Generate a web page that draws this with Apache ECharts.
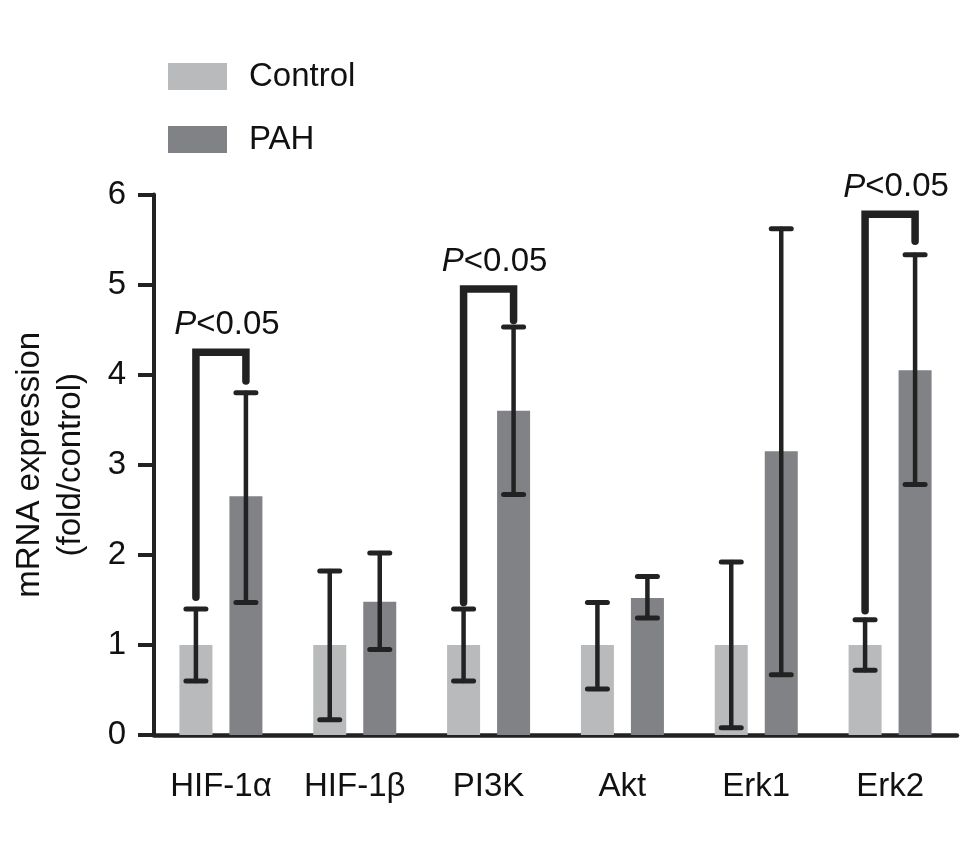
<!DOCTYPE html>
<html>
<head>
<meta charset="utf-8">
<script src="https://cdn.jsdelivr.net/npm/echarts@6/dist/echarts.min.js"></script>
<style>
html,body{margin:0;padding:0;background:#fff;}
#main{width:971px;height:862px;}
</style>
</head>
<body>
<div id="main"></div>
<script>
// ---- data ----
var categories = ['HIF-1\u03b1', 'HIF-1\u03b2', 'PI3K', 'Akt', 'Erk1', 'Erk2'];
var controlMean = [1.00, 1.00, 1.00, 1.00, 1.00, 1.00];
var controlLow  = [0.60, 0.17, 0.60, 0.51, 0.08, 0.72];
var controlHigh = [1.40, 1.82, 1.40, 1.47, 1.92, 1.28];
var pahMean = [2.65, 1.48, 3.60, 1.52, 3.15, 4.05];
var pahLow  = [1.47, 0.95, 2.67, 1.30, 0.67, 2.78];
var pahHigh = [3.80, 2.02, 4.53, 1.76, 5.62, 5.33];
// significance brackets
var sigCategories = ['HIF-1\u03b1', 'PI3K', 'Erk2'];
var sigLeftEnd  = [1.53, 1.47, 1.38];
var sigTop      = [4.25, 4.95, 5.78];
var sigRightEnd = [3.93, 4.60, 5.48];
var sigText = 'P<0.05';
var yTicks = [0, 1, 2, 3, 4, 5, 6];

// ---- styling ----
var FONT = '"Liberation Sans", Arial, Helvetica, sans-serif';
var FS = 33;
var BAR_W = 33, GAP_PX = 17;
var OFF = (BAR_W + GAP_PX) / 2;
var INK = '#222222';
var C_CTRL = '#b9babb', C_PAH = '#818285';

function errData(low, high) {
  return categories.map(function (c, i) { return [i, low[i], high[i]]; });
}
function errRender(offset) {
  return function (params, api) {
    var i = api.value(0);
    var lo = api.coord([i, api.value(1)]);
    var hi = api.coord([i, api.value(2)]);
    var x = lo[0] + offset;
    var capW = 10;
    var st = { stroke: INK, lineWidth: 4.5, lineCap: 'round' };
    var cap = { stroke: INK, lineWidth: 5, lineCap: 'round' };
    return {
      type: 'group',
      children: [
        { type: 'line', shape: { x1: x, y1: lo[1], x2: x, y2: hi[1] }, style: st },
        { type: 'line', shape: { x1: x - capW, y1: lo[1], x2: x + capW, y2: lo[1] }, style: cap },
        { type: 'line', shape: { x1: x - capW, y1: hi[1], x2: x + capW, y2: hi[1] }, style: cap }
      ]
    };
  };
}
var sigData = sigCategories.map(function (c, k) {
  return [categories.indexOf(c), sigLeftEnd[k], sigTop[k], sigRightEnd[k]];
});
var sigRich = '{i|' + sigText.charAt(0) + '}' + sigText.slice(1);

var chart = echarts.init(document.getElementById('main'), null, { renderer: 'canvas' });
chart.setOption({
  animation: false,
  backgroundColor: '#ffffff',
  textStyle: { fontFamily: FONT },
  grid: { left: 154, right: 14, top: 194.5, bottom: 127 },
  legend: {
    data: ['Control', 'PAH'],
    orient: 'vertical',
    left: 168,
    top: 60,
    padding: 0,
    itemWidth: 59,
    itemHeight: 27,
    itemGap: 30,
    icon: 'rect',
    textStyle: { fontSize: FS, color: '#111', fontFamily: FONT, lineHeight: 31, padding: [0, 0, 0, 17] }
  },
  xAxis: {
    type: 'category',
    data: categories,
    axisLine: { lineStyle: { color: INK, width: 4.5 } },
    axisTick: { alignWithLabel: true, length: 17, lineStyle: { color: INK, width: 4 } },
    axisLabel: { fontSize: FS, color: '#111', margin: 35, fontFamily: FONT },
    splitLine: { show: false }
  },
  yAxis: {
    type: 'value',
    min: yTicks[0],
    max: yTicks[yTicks.length - 1],
    interval: 1,
    name: 'mRNA expression\n(fold/control)',
    nameLocation: 'middle',
    nameRotate: 90,
    nameGap: 63,
    nameTextStyle: { fontSize: FS, color: '#111', lineHeight: 41, fontFamily: FONT, align: 'center' },
    axisLine: { show: true, lineStyle: { color: INK, width: 4 } },
    axisTick: { show: true, length: 16, lineStyle: { color: INK, width: 4 } },
    axisLabel: { fontSize: FS, color: '#111', margin: 28, fontFamily: FONT },
    splitLine: { show: false }
  },
  series: [
    {
      name: 'Control', type: 'bar', data: controlMean,
      barWidth: BAR_W, barGap: (GAP_PX / BAR_W * 100) + '%',
      itemStyle: { color: C_CTRL }, z: 2
    },
    {
      name: 'PAH', type: 'bar', data: pahMean,
      barWidth: BAR_W, barGap: (GAP_PX / BAR_W * 100) + '%',
      itemStyle: { color: C_PAH }, z: 2
    },
    {
      name: 'ctrlErr', type: 'custom', data: errData(controlLow, controlHigh),
      encode: { x: 0, y: [1, 2] }, renderItem: errRender(-OFF), z: 5, silent: true
    },
    {
      name: 'pahErr', type: 'custom', data: errData(pahLow, pahHigh),
      encode: { x: 0, y: [1, 2] }, renderItem: errRender(OFF), z: 5, silent: true
    },
    {
      name: 'sig', type: 'custom', data: sigData,
      encode: { x: 0, y: [1, 2, 3] }, z: 6, silent: true,
      renderItem: function (params, api) {
        var i = api.value(0);
        var l = api.coord([i, api.value(1)]);
        var t = api.coord([i, api.value(2)]);
        var r = api.coord([i, api.value(3)]);
        var xl = l[0] - OFF, xr = l[0] + OFF;
        return {
          type: 'group',
          children: [
            {
              type: 'polyline',
              shape: { points: [[xl, l[1]], [xl, t[1]], [xr, t[1]], [xr, r[1]]] },
              style: { stroke: INK, lineWidth: 7.5, lineCap: 'round', lineJoin: 'miter', fill: null }
            },
            {
              type: 'text',
              x: (xl + xr) / 2 + 6,
              y: t[1] - 27,
              style: {
                text: sigRich,
                rich: { i: { fontStyle: 'italic', fontSize: FS, fontFamily: FONT, fill: '#111' } },
                fontSize: FS, fontFamily: FONT, fill: '#111',
                align: 'center', verticalAlign: 'middle'
              }
            }
          ]
        };
      }
    }
  ]
});
</script>
</body>
</html>
